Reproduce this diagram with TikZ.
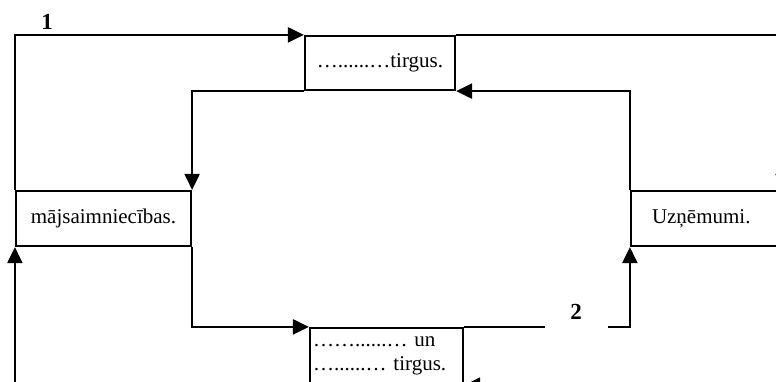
\documentclass[tikz,border=0pt]{standalone}
\usepackage{fontspec}
\setmainfont{Liberation Serif}
\usetikzlibrary{arrows.meta}

\tikzset{
  tirgbox/.style={draw, line width=2.2pt, inner sep=3pt, font=\fontsize{21}{24}\selectfont},
  plusma/.style={line width=2.2pt, -{Triangle[length=16pt,width=15pt]}},
  nummurs/.style={font=\fontsize{23}{26}\selectfont\bfseries, inner sep=0pt}
}

\begin{document}
\begin{tikzpicture}[x=1pt, y=-1pt]

\useasboundingbox (0,0) rectangle (776,382);
\clip (0,0) rectangle (776,382);

\node[tirgbox, minimum width=175pt, minimum height=55pt] (maj) at (103.5,218.5) {mājsaimniecības.};
\node[tirgbox, minimum height=55pt, text width=136pt, inner xsep=21pt, align=left] (uzn) at (720,218.5) {Uzņēmumi.};
\node[tirgbox, minimum width=150pt, minimum height=54pt] (prec) at (380,63) {…......…tirgus.};
\node[tirgbox, minimum width=153pt, minimum height=56pt, text width=147pt, align=left] (fakt) at (386.5,356) {……......… un\\…......… tirgus.};

\coordinate (rx) at (783,0); %aiz malas

% arejais aplis
\draw[plusma] (maj.north west) |- (prec.north west);
\draw[plusma] (prec.north east) -| (rx |- uzn.north);
\draw[plusma] (rx |- uzn.south) |- (fakt.south east);
\draw[plusma] (fakt.south west) -| (maj.south west);

% iekseejais aplis
\draw[plusma] (uzn.north west) |- (prec.south east);
\draw[plusma] (prec.south west) -| (maj.north east);
\draw[plusma] (maj.south east) |- (fakt.north west);
\draw[plusma] (fakt.north east) -| (uzn.south west);

\node[nummurs] (n1) at (47,22) {1};
\node[nummurs, fill=white, minimum width=63pt, minimum height=34pt] (n2) at (576,312) {2};

\end{tikzpicture}
\end{document}
